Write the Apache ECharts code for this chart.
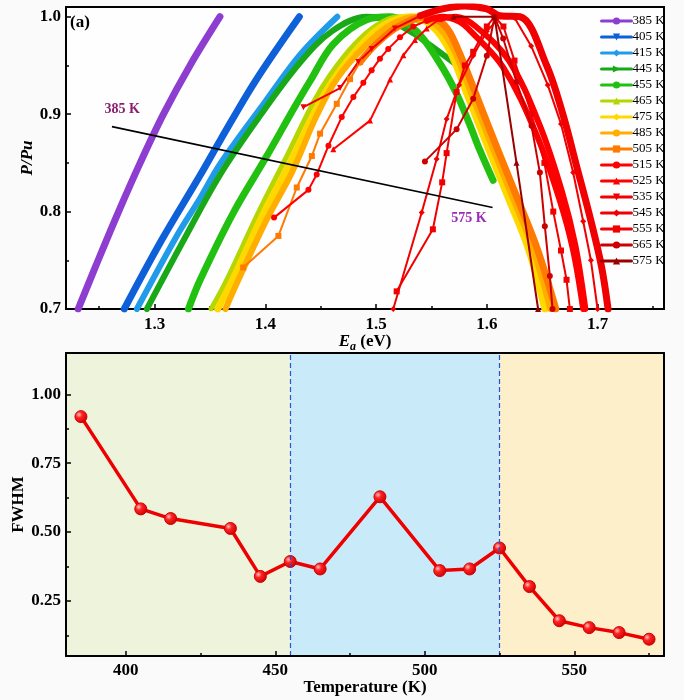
<!DOCTYPE html>
<html>
<head>
<meta charset="utf-8">
<script src="https://cdn.jsdelivr.net/npm/echarts@6/dist/echarts.min.js"></script>
<style>
  html, body { margin: 0; padding: 0; background: #fafafa; }
  #chart { width: 684px; height: 700px; }
</style>
</head>
<body>
<div id="chart"></div>
<script>
// ---------- Panel (a): normalised spectra P/Pu versus activation energy Ea ----------
const seriesNames = ['385 K', '405 K', '415 K', '445 K', '455 K', '465 K', '475 K', '485 K',
  '505 K', '515 K', '525 K', '535 K', '545 K', '555 K', '565 K', '575 K'];

const ea385 = [[1.231, 0.700], [1.249, 0.750], [1.2675, 0.800], [1.287, 0.850], [1.308, 0.900], [1.332, 0.950], [1.359, 1.000]];
const ea405 = [[1.2726, 0.700], [1.306, 0.770], [1.341, 0.837], [1.3592, 0.873], [1.391, 0.934], [1.4307, 1.000]];
const ea415 = [[1.284, 0.700], [1.320, 0.775], [1.3412, 0.814], [1.3592, 0.849], [1.400, 0.913], [1.4314, 0.961], [1.465, 1.000]];
const ea445 = [[1.293, 0.700], [1.325, 0.768], [1.3592, 0.838], [1.395, 0.898], [1.4314, 0.953], [1.460, 0.985],
  [1.4915, 1.000], [1.512, 0.996], [1.5336, 0.983], [1.5486, 0.971], [1.5712, 0.952]];
const ea455 = [[1.3306, 0.700], [1.3412, 0.730], [1.3712, 0.799], [1.4013, 0.857], [1.4253, 0.905], [1.4404, 0.934],
  [1.4614, 0.972], [1.4915, 0.997], [1.5126, 1.000], [1.5366, 0.985], [1.5577, 0.952], [1.5727, 0.921],
  [1.5847, 0.889], [1.5937, 0.863], [1.6057, 0.832]];
const ea465 = [[1.351, 0.700], [1.3652, 0.730], [1.3937, 0.799], [1.4194, 0.857], [1.4434, 0.912], [1.4584, 0.940],
  [1.480, 0.971], [1.500, 0.991], [1.520, 1.000], [1.540, 0.995]];
const ea475 = [[1.357, 0.700], [1.3705, 0.730], [1.3975, 0.796], [1.4215, 0.848], [1.4437, 0.900], [1.462, 0.936],
  [1.487, 0.972], [1.508, 0.992], [1.532, 1.000], [1.550, 0.991], [1.5657, 0.967], [1.5837, 0.916],
  [1.6017, 0.864], [1.6198, 0.813], [1.6378, 0.761], [1.6524, 0.700]];
const ea485 = [[1.364, 0.700], [1.3757, 0.730], [1.4013, 0.792], [1.4239, 0.840], [1.4464, 0.8986], [1.4645, 0.936],
  [1.490, 0.970], [1.512, 0.991], [1.537, 1.000], [1.555, 0.991], [1.5697, 0.967], [1.5877, 0.916],
  [1.6057, 0.864], [1.6238, 0.813], [1.6418, 0.761], [1.6574, 0.700]];
const ea505Rise = [[1.380, 0.7426], [1.4118, 0.775], [1.4284, 0.8247], [1.442, 0.857], [1.4494, 0.880],
  [1.4645, 0.9106], [1.4765, 0.936], [1.4855, 0.9536]];
const ea505Top = [[1.4855, 0.9536], [1.500, 0.972], [1.520, 0.990], [1.545, 1.000], [1.562, 0.991], [1.5737, 0.967],
  [1.5917, 0.916], [1.6097, 0.864], [1.6278, 0.813], [1.6458, 0.761], [1.6623, 0.700]];
const ea515Rise = [[1.4079, 0.7938], [1.4389, 0.8223], [1.4464, 0.838], [1.457, 0.8676], [1.469, 0.897],
  [1.4795, 0.9175], [1.4885, 0.9323], [1.496, 0.945], [1.5035, 0.957], [1.511, 0.967], [1.5216, 0.979],
  [1.5336, 0.990], [1.5457, 0.996]];
const ea515Fall = [[1.5457, 0.996], [1.560, 1.000], [1.575, 0.995], [1.5847, 0.986], [1.6148, 0.948],
  [1.6449, 0.879], [1.666, 0.811], [1.678, 0.760], [1.687, 0.700]];
const ea525Rise = [[1.4614, 0.864], [1.4945, 0.8934], [1.5126, 0.9357], [1.5246, 0.9604], [1.5351, 0.976],
  [1.5457, 0.988], [1.5577, 0.998]];
const ea525Fall = [[1.5577, 0.998], [1.572, 1.000], [1.590, 0.990], [1.620, 0.955], [1.648, 0.888],
  [1.668, 0.820], [1.680, 0.765], [1.689, 0.700]];
const ea535Rise = [[1.4344, 0.9072], [1.4675, 0.9268], [1.484, 0.9536], [1.496, 0.967], [1.517, 0.988], [1.540, 1.001]];
const ea535Top = [[1.540, 1.001], [1.560, 1.008], [1.580, 1.011], [1.600, 1.008], [1.612, 1.001], [1.630, 1.000],
  [1.654, 0.950], [1.669, 0.8986], [1.681, 0.847], [1.693, 0.795], [1.7035, 0.744], [1.7095, 0.700]];
const ea545 = [[1.5155, 0.700], [1.5412, 0.799], [1.5547, 0.854], [1.5637, 0.895], [1.575, 0.930], [1.5877, 0.960],
  [1.600, 0.985], [1.612, 1.000], [1.625, 0.999], [1.640, 0.970], [1.655, 0.930], [1.667, 0.890],
  [1.678, 0.840], [1.687, 0.790], [1.694, 0.750], [1.700, 0.700]];
const ea555 = [[1.5186, 0.7181], [1.5513, 0.7818], [1.5597, 0.830], [1.5637, 0.860], [1.5727, 0.9227],
  [1.5802, 0.950], [1.5877, 0.964], [1.600, 0.990], [1.607, 1.000], [1.615, 0.990], [1.625, 0.955],
  [1.6404, 0.900], [1.652, 0.850], [1.660, 0.800], [1.667, 0.760], [1.672, 0.730], [1.675, 0.700]];
const ea565 = [[1.5441, 0.8515], [1.5727, 0.8844], [1.5877, 0.9158], [1.600, 0.960], [1.607, 1.000],
  [1.6148, 0.9776], [1.6268, 0.933], [1.6404, 0.888], [1.6479, 0.840], [1.6524, 0.785], [1.6569, 0.734], [1.6593, 0.700]];
const ea575 = [[1.570, 1.000], [1.607, 1.000], [1.6268, 0.850], [1.6463, 0.700]];

// trend arrow and its end labels, in data units of panel (a)
const arrowStart = [1.2615, 0.8872];
const arrowEnd = [1.6052, 0.8041];
const labelLowPos = [1.2708, 0.9044];
const labelHighPos = [1.5838, 0.7931];

const energyTicks = [1.3, 1.4, 1.5, 1.6, 1.7];
const energyMinorTicks = [1.25, 1.35, 1.45, 1.55, 1.65, 1.75];
const ratioTicks = [0.7, 0.8, 0.9, 1.0];
const ratioMinorTicks = [0.75, 0.85, 0.95];

// ---------- Panel (b): FWHM versus temperature ----------
const temperatureK = [385, 405, 415, 435, 445, 455, 465, 485, 505, 515, 525, 535, 545, 555, 565, 575];
const fwhm = [0.919, 0.584, 0.549, 0.513, 0.339, 0.393, 0.366, 0.628, 0.360, 0.366, 0.442, 0.302, 0.178, 0.153, 0.135, 0.111];
const regionBounds = [380, 455, 525, 580];
const regionColors = ['#eef3dc', '#c9ebf9', '#fdefca'];
const dividerTemps = [455, 525];
const tempTicks = [400, 450, 500, 550];
const tempMinorTicks = [425, 475, 525, 575];
const fwhmTicks = [0.25, 0.50, 0.75, 1.00];
const fwhmMinorTicks = [0.125, 0.375, 0.625, 0.875];

// ---------- styling ----------
const FONT = "'Liberation Serif', 'Times New Roman', serif";
const gridA = { left: 66, top: 7, width: 598, height: 302 };
const gridB = { left: 66, top: 353, width: 598, height: 303 };

const tickLabel = (digits) => ({
  fontFamily: FONT, fontSize: 17, fontWeight: 'bold', color: '#000',
  formatter: (v) => Number(v).toFixed(digits)
});

function line(name, data, color, width, symbol, opts) {
  return Object.assign({
    type: 'line', name, data, xAxisIndex: 0, yAxisIndex: 0,
    symbol, symbolSize: 6, showSymbol: false, smooth: 0.35,
    lineStyle: { color, width, cap: 'round', join: 'round' },
    itemStyle: { color },
    emphasis: { disabled: true }, silent: true, animation: false, z: 2
  }, opts || {});
}

const markerLine = (name, data, color, symbol, extra) =>
  line(name, data, color, 2, symbol, Object.assign({ showSymbol: true, smooth: false, z: 4 }, extra || {}));

const redMain = '#ff0000';
const red2 = '#f00000';

const panelASeries = [
  line('385 K', ea385, '#8e3dd1', 7, 'circle', {
    markLine: {
      silent: true, symbol: ['none', 'arrow'], symbolSize: [0, 11],
      lineStyle: { color: '#000', width: 1.6, type: 'solid' }, label: { show: false },
      data: [[{ coord: arrowStart }, { coord: arrowEnd }]]
    },
    markPoint: {
      silent: true, symbol: 'rect', symbolSize: 1, itemStyle: { color: 'rgba(0,0,0,0)' },
      label: { show: true, position: 'inside', fontFamily: FONT, fontSize: 14, fontWeight: 'bold' },
      data: [
        { coord: labelLowPos, label: { formatter: '385 K', color: '#8b1f6e' } },
        { coord: labelHighPos, label: { formatter: '575 K', color: '#9c2ab8' } }
      ]
    }
  }),
  line('405 K', ea405, '#0d60d8', 7, 'triangle', { symbolRotate: 180 }),
  line('415 K', ea415, '#1f9be9', 6, 'diamond'),
  line('445 K', ea445, '#18a818', 6, 'triangle', { symbolRotate: -90 }),
  line('455 K', ea455, '#22c010', 7, 'circle'),
  line('465 K', ea465, '#b5d600', 5, 'triangle'),
  line('475 K', ea475, '#ffd800', 7, 'diamond'),
  line('485 K', ea485, '#ffae00', 6, 'circle'),
  markerLine('505 K', ea505Rise, '#ff7a00', 'rect'),
  markerLine('515 K', ea515Rise, redMain, 'circle'),
  markerLine('525 K', ea525Rise, redMain, 'triangle'),
  markerLine('535 K', ea535Rise, red2, 'triangle', { symbolRotate: 180 }),
  markerLine('545 K', ea545, red2, 'diamond'),
  markerLine('555 K', ea555, red2, 'rect'),
  markerLine('565 K', ea565, '#cc0000', 'circle'),
  markerLine('575 K', ea575, '#9a0000', 'triangle', { z: 5 }),
  // densely sampled stretches drawn as heavy bands
  line('505 K', ea505Top, '#ff7a00', 7, 'rect'),
  line('515 K', ea515Fall, redMain, 6, 'circle', { z: 3 }),
  line('525 K', ea525Fall, redMain, 6, 'triangle', { z: 3 }),
  line('535 K', ea535Top, red2, 7, 'triangle', { z: 3 })
];

const panelBSeries = {
  type: 'line', name: 'FWHM', xAxisIndex: 2, yAxisIndex: 2,
  data: temperatureK.map((t, i) => [t, fwhm[i]]),
  symbol: 'circle', symbolSize: 12, showSymbol: true,
  lineStyle: { color: '#ee0000', width: 3.5 },
  itemStyle: {
    color: {
      type: 'radial', x: 0.35, y: 0.35, r: 0.7,
      colorStops: [{ offset: 0, color: '#ffc4c4' }, { offset: 0.35, color: '#ff2222' }, { offset: 1, color: '#c80000' }]
    },
    borderColor: '#d00000', borderWidth: 1
  },
  emphasis: { disabled: true }, silent: true, animation: false, z: 3,
  markArea: {
    silent: true,
    data: regionColors.map((c, i) => [
      { xAxis: regionBounds[i], itemStyle: { color: c } },
      { xAxis: regionBounds[i + 1] }
    ])
  },
  markLine: {
    silent: true, symbol: 'none', label: { show: false },
    lineStyle: { color: '#2850d8', width: 1.2, type: [5, 3] },
    data: dividerTemps.map((t) => ({ xAxis: t }))
  }
};

const blackLine = { lineStyle: { color: '#000', width: 2 } };
const tickStyle = (len, values) => ({ show: true, inside: true, length: len, customValues: values, lineStyle: { color: '#000', width: 1.5 } });

const option = {
  backgroundColor: '#fafafa',
  animation: false,
  grid: [
    Object.assign({ show: true, backgroundColor: '#fefefe', borderColor: '#000', borderWidth: 2, outerBoundsMode: 'none' }, gridA),
    Object.assign({ show: false, outerBoundsMode: 'none' }, gridB),
    Object.assign({ show: false, outerBoundsMode: 'none' }, gridA),
    Object.assign({ show: false, outerBoundsMode: 'none' }, gridB)
  ],
  legend: {
    data: seriesNames, orient: 'vertical', left: 595, top: 9,
    itemWidth: 30, itemHeight: 9, itemGap: 2, selectedMode: false,
    lineStyle: { width: 3 },
    textStyle: { fontFamily: FONT, fontSize: 13, color: '#000', lineHeight: 14, padding: [0, 0, 0, -4] }
  },
  xAxis: [
    { // 0: panel (a) energy axis
      type: 'value', gridIndex: 0, min: 1.22, max: 1.76, position: 'bottom',
      axisLine: { show: false }, splitLine: { show: false },
      axisTick: tickStyle(5, energyTicks),
      axisLabel: Object.assign({ customValues: energyTicks, margin: 7 }, tickLabel(1)),
      name: '{it|E}{sub|a}{n| (eV)}', nameLocation: 'middle', nameGap: 24, nameMoveOverlap: false,
      nameTextStyle: {
        fontFamily: FONT, fontSize: 17, fontWeight: 'bold', color: '#000',
        rich: {
          it: { fontFamily: FONT, fontSize: 17, fontWeight: 'bold', fontStyle: 'italic', lineHeight: 17, verticalAlign: 'top' },
          sub: { fontFamily: FONT, fontSize: 12, fontWeight: 'bold', fontStyle: 'italic', lineHeight: 12, verticalAlign: 'top', padding: [8, 0, 0, 0] },
          n: { fontFamily: FONT, fontSize: 17, fontWeight: 'bold', lineHeight: 17, verticalAlign: 'top' }
        }
      }
    },
    { // 1: panel (b) temperature axis
      type: 'value', gridIndex: 1, min: 380, max: 580, position: 'bottom', z: 10,
      axisLine: blackLine, splitLine: { show: false },
      axisTick: tickStyle(5, tempTicks),
      axisLabel: Object.assign({ customValues: tempTicks, margin: 6 }, tickLabel(0)),
      name: 'Temperature (K)', nameLocation: 'middle', nameGap: 23, nameMoveOverlap: false,
      nameTextStyle: { fontFamily: FONT, fontSize: 17, fontWeight: 'bold', color: '#000' }
    },
    { // 2: panel (b) data axis (same scale, minor ticks only)
      type: 'value', gridIndex: 3, min: 380, max: 580, position: 'bottom', z: 10,
      axisLine: { show: false }, splitLine: { show: false },
      axisTick: tickStyle(3, tempMinorTicks), axisLabel: { show: false }
    },
    { // 3: panel (a) minor ticks
      type: 'value', gridIndex: 2, min: 1.22, max: 1.76, position: 'bottom',
      axisLine: { show: false }, splitLine: { show: false },
      axisTick: tickStyle(3, energyMinorTicks), axisLabel: { show: false }
    },
    { // 4: panel (b) top frame
      type: 'value', gridIndex: 3, min: 380, max: 580, position: 'top', z: 10,
      axisLine: blackLine, splitLine: { show: false }, axisTick: { show: false }, axisLabel: { show: false }
    }
  ],
  yAxis: [
    { // 0: panel (a) P/Pu
      type: 'value', gridIndex: 0, min: 0.7, max: 1.01, position: 'left',
      axisLine: { show: false }, splitLine: { show: false },
      axisTick: tickStyle(5, ratioTicks),
      axisLabel: Object.assign({ customValues: ratioTicks, margin: 5 }, tickLabel(1)),
      name: 'P/Pu', nameLocation: 'middle', nameGap: 30, nameMoveOverlap: false,
      nameTextStyle: { fontFamily: FONT, fontSize: 17, fontWeight: 'bold', fontStyle: 'italic', color: '#000' }
    },
    { // 1: panel (b) FWHM
      type: 'value', gridIndex: 1, min: 0.05, max: 1.15, position: 'left', z: 10,
      axisLine: blackLine, splitLine: { show: false },
      axisTick: tickStyle(5, fwhmTicks),
      axisLabel: Object.assign({ customValues: fwhmTicks, margin: 5 }, tickLabel(2)),
      name: 'FWHM', nameLocation: 'middle', nameGap: 39, nameMoveOverlap: false,
      nameTextStyle: { fontFamily: FONT, fontSize: 17, fontWeight: 'bold', color: '#000' }
    },
    { // 2: panel (b) data axis
      type: 'value', gridIndex: 3, min: 0.05, max: 1.15, position: 'left', z: 10,
      axisLine: { show: false }, splitLine: { show: false },
      axisTick: tickStyle(3, fwhmMinorTicks), axisLabel: { show: false }
    },
    { // 3: panel (a) minor ticks
      type: 'value', gridIndex: 2, min: 0.7, max: 1.01, position: 'left',
      axisLine: { show: false }, splitLine: { show: false },
      axisTick: tickStyle(3, ratioMinorTicks), axisLabel: { show: false }
    },
    { // 4: panel (b) right frame
      type: 'value', gridIndex: 3, min: 0.05, max: 1.15, position: 'right', z: 10,
      axisLine: blackLine, splitLine: { show: false }, axisTick: { show: false }, axisLabel: { show: false }
    }
  ],
  graphic: [
    { type: 'text', left: 70, top: 14, style: { text: '(a)', fontFamily: FONT, fontSize: 17, fontWeight: 'bold', fill: '#000' } },
    { type: 'text', left: 70, top: 360, style: { text: '(b)', fontFamily: FONT, fontSize: 17, fontWeight: 'bold', fill: '#000' } }
  ],
  series: panelASeries.concat([panelBSeries])
};

const chart = echarts.init(document.getElementById('chart'), null, { renderer: 'canvas' });
chart.setOption(option);
</script>
</body>
</html>
